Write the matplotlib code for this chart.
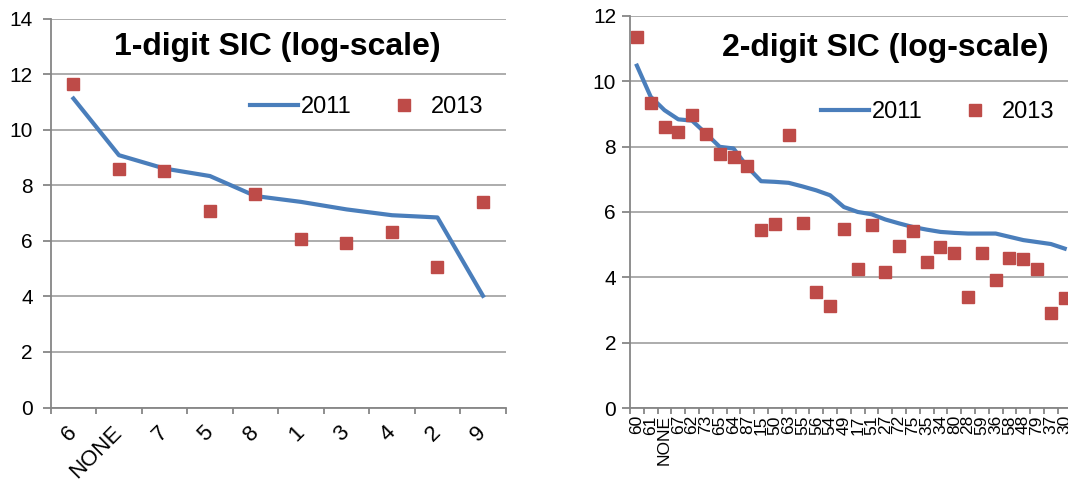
import numpy as np
import matplotlib
matplotlib.use("Agg")
import matplotlib.pyplot as plt

plt.rcParams['font.family'] = ['Liberation Sans', 'DejaVu Sans']

# 1-digit SIC codes
sic1 = ["6", "NONE", "7", "5", "8", "1", "3", "4", "2", "9"]
sic1_2011 = [11.12, 9.08, 8.60, 8.33, 7.61, 7.40, 7.13, 6.92, 6.84, 4.02]
sic1_2013 = [11.64, 8.58, 8.51, 7.08, 7.68, 6.05, 5.92, 6.30, 5.07, 7.40]

# 2-digit SIC codes
sic2 = ["60", "61", "NONE", "67", "62", "73", "65", "64", "87", "15", "50",
        "63", "55", "56", "54", "49", "17", "51", "27", "72", "75", "35",
        "34", "80", "28", "59", "36", "58", "48", "79", "37", "30"]
sic2_2011 = [10.47, 9.52, 9.11, 8.83, 8.79, 8.40, 7.99, 7.94, 7.38, 6.94, 6.92,
             6.89, 6.78, 6.66, 6.51, 6.15, 6.00, 5.93, 5.77, 5.65, 5.54, 5.46,
             5.39, 5.36, 5.34, 5.34, 5.34, 5.24, 5.14, 5.08, 5.02, 4.88]
sic2_2013 = [11.36, 9.32, 8.60, 8.43, 8.96, 8.37, 7.76, 7.69, 7.40, 5.46, 5.62,
             8.35, 5.67, 3.55, 3.13, 5.48, 4.26, 5.60, 4.15, 4.96, 5.43, 4.47,
             4.94, 4.75, 3.40, 4.76, 3.91, 4.59, 4.56, 4.26, 2.90, 3.36]

BLUE = "#4a7ebb"
RED = "#be4b48"
AXIS = "#868686"
GRID = "#a6a6a6"

W, H = 1068, 482
fig = plt.figure(figsize=(W / 100, H / 100), dpi=100)


def make_axes(px_left, px_top, px_right, px_bottom):
    return fig.add_axes([px_left / W, 1 - px_bottom / H,
                         (px_right - px_left) / W, (px_bottom - px_top) / H])


def style(ax, cats, ymax, ypad, xrot, xpad, xsize):
    n = len(cats)
    ax.set_xlim(-0.5, n - 0.5)
    ax.set_ylim(0, ymax)
    ax.set_yticks(np.arange(0, ymax + 1, 2))
    ax.yaxis.grid(True, color=GRID, lw=1.3)
    ax.set_axisbelow(True)
    for s in ["top", "right"]:
        ax.spines[s].set_visible(False)
    for s in ["left", "bottom"]:
        ax.spines[s].set_color(AXIS)
        ax.spines[s].set_linewidth(1.3)
    ax.tick_params(axis="y", length=6, width=1.3, color=AXIS, labelsize=15, pad=ypad)
    # tick marks sit between the categories
    ax.set_xticks(np.arange(n))
    ax.set_xticks(np.arange(n + 1) - 0.5, minor=True)
    ax.tick_params(axis="x", which="major", length=0, labelsize=xsize, pad=xpad)
    ax.tick_params(axis="x", which="minor", length=4, width=1.3, color=AXIS)
    if xrot == 45:
        for lab in ax.get_xticklabels():
            lab.set_rotation(45)
            lab.set_ha("right")
            lab.set_va("center")
            lab.set_rotation_mode("anchor")
    else:
        for lab in ax.get_xticklabels():
            lab.set_rotation(90)
            lab.set_ha("center")
            lab.set_va("top")


def add_legend(ax, cx, cy):
    ax.legend(ncol=2, frameon=False, fontsize=17, loc="center",
              bbox_to_anchor=(cx / W, 1 - cy / H), bbox_transform=fig.transFigure,
              handlelength=2.0, handletextpad=0.15, columnspacing=1.2,
              borderpad=0, borderaxespad=0)


# left panel
ax1 = make_axes(50.7, 18.5, 505.7, 407.5)
ax1.plot(sic1, sic1_2011, color=BLUE, lw=3, label="2011")
ax1.plot(sic1, sic1_2013, ls="none", marker="s", ms=9, color=RED, label="2013")
style(ax1, sic1, 14, 7, 45, 16, 16)
fig.text(277 / W, 1 - 47 / H, "1-digit SIC (log-scale)",
         fontsize=23, fontweight="bold", ha="center", va="center")
add_legend(ax1, 367, 107)

# right panel
ax2 = make_axes(630, 15.6, 630 + 32 * 13.8, 408.3)
ax2.plot(sic2, sic2_2011, color=BLUE, lw=3, label="2011")
ax2.plot(sic2, sic2_2013, ls="none", marker="s", ms=9, color=RED, label="2013")
style(ax2, sic2, 12, 4, 90, 5, 12.5)
fig.text(885 / W, 1 - 48 / H, "2-digit SIC (log-scale)",
         fontsize=23, fontweight="bold", ha="center", va="center")
add_legend(ax2, 938, 112)

fig.savefig("out.png", dpi=100)
